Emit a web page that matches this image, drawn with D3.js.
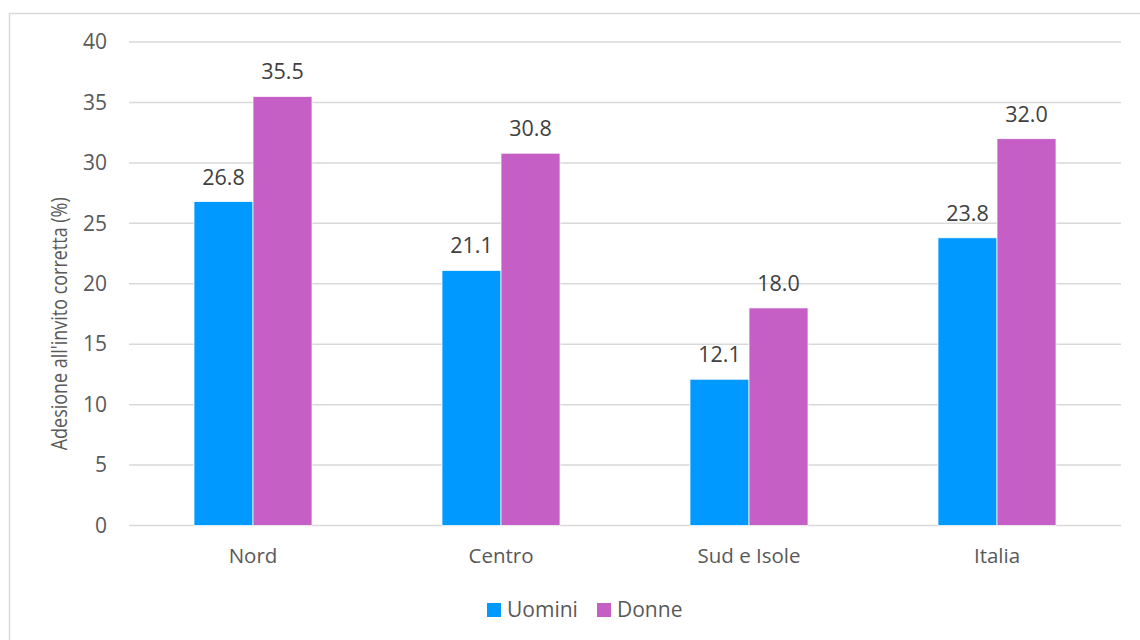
<!DOCTYPE html>
<html>
<head>
<meta charset="utf-8">
<script src="https://cdn.jsdelivr.net/npm/d3@7"></script>
<style>
  html, body { margin: 0; padding: 0; background: #fff; }
  svg { display: block; font-family: "Open Sans", "Noto Sans", sans-serif; }
</style>
</head>
<body>
<svg id="chart" width="1140" height="640"></svg>
<script>
// Areas and series
const categories = ["Nord", "Centro", "Sud e Isole", "Italia"];
const seriesNames = ["Uomini", "Donne"];
const uomini = [26.8, 21.1, 12.1, 23.8];
const donne = [35.5, 30.8, 18.0, 32.0];
const yTicks = [0, 5, 10, 15, 20, 25, 30, 35, 40];
const seriesColors = ["#0099FF", "#C55FC6"];
const yTitle = "Adesione all'invito corretta (%)";

const svg = d3.select("#chart");

// outer frame
svg.append("rect")
  .attr("x", 9.5).attr("y", 13.5)
  .attr("width", 1160).attr("height", 660)
  .attr("fill", "none").attr("stroke", "#d9d9d9").attr("stroke-width", 1.5);

const plot = { left: 129, right: 1121, top: 42, bottom: 525.5 };

const x = d3.scaleBand().domain(categories).range([plot.left, plot.right]).padding(0);
const xs = d3.scaleBand().domain(seriesNames).range([0, x.bandwidth()])
  .paddingInner(0).paddingOuter(1.1017);
const y = d3.scaleLinear().domain([0, 40]).range([plot.bottom, plot.top]);

// gridlines
svg.append("g").selectAll("line").data(yTicks).join("line")
  .attr("x1", plot.left).attr("x2", plot.right)
  .attr("y1", d => y(d)).attr("y2", d => y(d))
  .attr("stroke", "#d9d9d9").attr("stroke-width", 1.5);

// y axis labels
const yAxis = d3.axisLeft(y).tickValues(yTicks).tickSize(0).tickPadding(0);
const gy = svg.append("g").attr("transform", `translate(${plot.left - 22},0)`).call(yAxis);
gy.select(".domain").remove();
gy.selectAll("text").attr("fill", "#595959").style("font-size", "21px")
  .style("font-family", "'Open Sans', sans-serif");

// x axis labels
const xAxis = d3.axisBottom(x).tickSize(0).tickPadding(0);
const gx = svg.append("g").attr("transform", `translate(0,${plot.bottom + 23})`).call(xAxis);
gx.select(".domain").remove();
gx.selectAll("text").attr("fill", "#595959").style("font-size", "20.5px")
  .style("font-family", "'Open Sans', sans-serif");

// bars
const rows = categories.map((c, i) => ({ cat: c, vals: [uomini[i], donne[i]] }));
const groups = svg.append("g").selectAll("g").data(rows).join("g")
  .attr("transform", d => `translate(${x(d.cat)},0)`);

groups.selectAll("rect")
  .data(d => d.vals.map((v, j) => ({ s: seriesNames[j], v, j })))
  .join("rect")
  .attr("x", d => xs(d.s))
  .attr("width", xs.bandwidth())
  .attr("y", d => y(d.v))
  .attr("height", d => y(0) - y(d.v))
  .attr("fill", d => seriesColors[d.j])
  .attr("stroke", "#ffffff").attr("stroke-width", 0.75);

// data labels
groups.selectAll("text.val")
  .data(d => d.vals.map((v, j) => ({ s: seriesNames[j], v, j })))
  .join("text")
  .attr("class", "val")
  .attr("x", d => xs(d.s) + xs.bandwidth() / 2)
  .attr("y", d => y(d.v) - 17)
  .attr("text-anchor", "middle")
  .attr("fill", "#404040")
  .style("font-size", "21.5px")
  .text(d => d.v.toFixed(1));

// y axis title
svg.append("text")
  .attr("transform", `translate(67,${(plot.top + plot.bottom) / 2 + 40}) rotate(-90)`)
  .attr("text-anchor", "middle")
  .attr("fill", "#595959")
  .style("font-size", "22px")
  .attr("textLength", 253)
  .attr("lengthAdjust", "spacingAndGlyphs")
  .text(yTitle);

// legend
const legend = svg.append("g").attr("transform", "translate(487,603)");
const legendX = [0, 110];
seriesNames.forEach((name, i) => {
  const g = legend.append("g").attr("transform", `translate(${legendX[i]},0)`);
  g.append("rect").attr("width", 14).attr("height", 14).attr("fill", seriesColors[i]);
  g.append("text").attr("x", 20).attr("y", 14).attr("fill", "#595959")
    .style("font-size", "21px").text(name);
});
</script>
</body>
</html>
